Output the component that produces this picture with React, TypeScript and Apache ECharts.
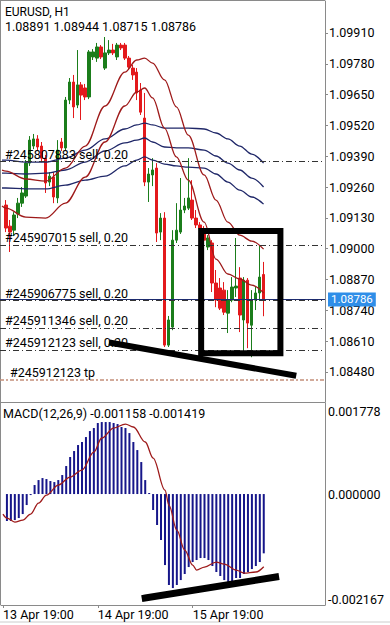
import React, { useEffect, useRef } from 'react';
import * as echarts from 'echarts';

const FONT = 'Roboto, "Noto Sans", sans-serif';

const symbolTitle = 'EURUSD, H1';
const headerOHLC = '1.08891 1.08944 1.08715 1.08786';
const macdTitle = 'MACD(12,26,9) -0.001158 -0.001419';

// time slots (hourly), slot 0 = 13 Apr 19:00, first candle in slot 1
const SLOT_COUNT = 82;
const FIRST_CANDLE_SLOT = 1;
const START_DAY = 13;
const START_HOUR = 19;
const timeTickLabels = ['13 Apr 19:00', '14 Apr 19:00', '15 Apr 19:00'];

// H1 candles
const opens = [1.09184, 1.09095, 1.09078, 1.09146, 1.09192, 1.09222, 1.09361, 1.09433, 1.09463, 1.09433,
  1.09382, 1.09281, 1.09302, 1.09214, 1.0945, 1.09425, 1.09627, 1.09703, 1.09606, 1.09691,
  1.09678, 1.0964, 1.09809, 1.09804, 1.09851, 1.09762, 1.09826, 1.09838, 1.09809, 1.09859,
  1.09859, 1.09804, 1.09762, 1.09745, 1.09669, 1.09551, 1.09281, 1.09311, 1.0934, 1.0907,
  1.09129, 1.08593, 1.08669, 1.09036, 1.0907, 1.09163, 1.09171, 1.09205, 1.09129, 1.091,
  1.09078, 1.09007, 1.09024, 1.08855, 1.08834, 1.08825, 1.08728, 1.08783, 1.08834, 1.08876,
  1.08699, 1.08867, 1.08677, 1.08783, 1.08813, 1.08891];
const closes = [1.09087, 1.0907, 1.09142, 1.09192, 1.09235, 1.09361, 1.09458, 1.09463, 1.09429, 1.09382,
  1.09277, 1.09306, 1.09218, 1.09416, 1.09425, 1.09627, 1.09703, 1.09598, 1.09691, 1.09648,
  1.0964, 1.0983, 1.0983, 1.09851, 1.09809, 1.09826, 1.09838, 1.09826, 1.09859, 1.09847,
  1.09804, 1.09766, 1.09733, 1.09657, 1.09576, 1.09281, 1.09315, 1.09332, 1.09066, 1.09129,
  1.08593, 1.08699, 1.09036, 1.09078, 1.09163, 1.0918, 1.09214, 1.09129, 1.091, 1.09087,
  1.09036, 1.09045, 1.08855, 1.08783, 1.08749, 1.08732, 1.08783, 1.08838, 1.08842, 1.0872,
  1.08867, 1.08686, 1.08783, 1.08813, 1.0888, 1.08786];
const lows = [1.0907, 1.08986, 1.09053, 1.09129, 1.09176, 1.09214, 1.09349, 1.0942, 1.09416, 1.09365,
  1.09235, 1.09264, 1.09192, 1.09192, 1.09412, 1.09416, 1.0961, 1.09551, 1.09593, 1.09543,
  1.09627, 1.09631, 1.09796, 1.09788, 1.098, 1.09754, 1.09817, 1.09817, 1.09796, 1.09838,
  1.09796, 1.09754, 1.09712, 1.09627, 1.09564, 1.09264, 1.09197, 1.09264, 1.09028, 1.09036,
  1.08585, 1.08585, 1.08656, 1.09024, 1.09062, 1.0915, 1.09163, 1.09121, 1.09087, 1.0907,
  1.09024, 1.08994, 1.08817, 1.08753, 1.08741, 1.0872, 1.08644, 1.08774, 1.08796, 1.08648,
  1.08572, 1.0858, 1.08542, 1.08741, 1.08779, 1.08715];
const highs = [1.09205, 1.09121, 1.09154, 1.09214, 1.0926, 1.09374, 1.09475, 1.09484, 1.09479, 1.0945,
  1.09395, 1.09323, 1.09323, 1.09458, 1.09467, 1.0964, 1.0972, 1.09733, 1.09838, 1.09703,
  1.09695, 1.09838, 1.09842, 1.09868, 1.09859, 1.09893, 1.0988, 1.09864, 1.09868, 1.09868,
  1.09868, 1.09813, 1.09775, 1.09762, 1.09699, 1.09657, 1.0934, 1.09382, 1.09361, 1.0915,
  1.09154, 1.08716, 1.09078, 1.09192, 1.09298, 1.09214, 1.09382, 1.09289, 1.09163, 1.09112,
  1.09095, 1.09057, 1.09036, 1.0891, 1.08876, 1.08859, 1.08825, 1.0888, 1.09045, 1.08922,
  1.0888, 1.08876, 1.08825, 1.08838, 1.09015, 1.08944];

// moving averages, read at these candle indexes
const maIdx = [-1, 0, 5, 10, 15, 20, 25, 30, 33, 35, 37, 40, 43, 46, 50, 53, 56, 59, 62, 65];
const maRedFast = [1.09331, 1.09327, 1.09294, 1.09285, 1.0934, 1.09433, 1.09602, 1.09745, 1.09796, 1.09804,
  1.09783, 1.09712, 1.09598, 1.09479, 1.09311, 1.09205, 1.09112, 1.09057, 1.09032, 1.08998];
const maRedSlow = [1.0918, 1.09171, 1.09133, 1.09129, 1.09192, 1.09302, 1.0945, 1.09602, 1.09661, 1.09678,
  1.09636, 1.09509, 1.09387, 1.09289, 1.09112, 1.08956, 1.08893, 1.08872, 1.08846, 1.08813];
const maNavyTop = [1.09374, 1.09374, 1.09365, 1.09365, 1.09382, 1.09416, 1.09463, 1.09505, 1.09522, 1.0953,
  1.09522, 1.09509, 1.09509, 1.09509, 1.09505, 1.09488, 1.09463, 1.09433, 1.09399, 1.09361];
const maNavyMid = [1.09319, 1.09319, 1.09315, 1.09319, 1.09332, 1.09365, 1.09412, 1.09446, 1.09458, 1.09467,
  1.0945, 1.09429, 1.09425, 1.09425, 1.09416, 1.09391, 1.09361, 1.09332, 1.09298, 1.0926];
const maNavyLow = [1.09256, 1.09256, 1.09252, 1.09252, 1.09268, 1.09289, 1.09306, 1.09349, 1.09374, 1.09387,
  1.09374, 1.09357, 1.09349, 1.09344, 1.0934, 1.09315, 1.09281, 1.09247, 1.09218, 1.09188];

// MACD histogram per candle
const macdHist = [-0.000527, -0.000527, -0.000508, -0.000469, -0.000391, -0.000215, -0.00002, 0.000176, 0.000273, 0.000312,
  0.000293, 0.000254, 0.000234, 0.000273, 0.000371, 0.000547, 0.000723, 0.00084, 0.000957, 0.001016,
  0.001113, 0.00123, 0.001289, 0.001387, 0.001406, 0.001406, 0.001406, 0.001387, 0.001367, 0.001309,
  0.001289, 0.001191, 0.001016, 0.000859, 0.000625, 0.000273, 0.00002, -0.000312, -0.000605, -0.000898,
  -0.001387, -0.001777, -0.001836, -0.001777, -0.00168, -0.001562, -0.001426, -0.001328, -0.001289, -0.00125,
  -0.00125, -0.001289, -0.001406, -0.001523, -0.001601, -0.00168, -0.001719, -0.001699, -0.00164, -0.00164,
  -0.001562, -0.001523, -0.001465, -0.001406, -0.001328, -0.001158];
// MACD signal line, read at these candle indexes
const signalIdx = [-1, 0, 2, 4, 6, 8, 10, 13, 16, 19, 22, 24, 27, 30, 32, 35, 37, 40, 41, 43, 45, 47, 48, 50, 53, 55, 58, 60, 63, 65];
const signalVals = [-0.000391, -0.000469, -0.000547, -0.000508, -0.000391, -0.000176, -0.00002, 0.000176, 0.000332, 0.000469,
  0.00082, 0.001094, 0.001289, 0.001367, 0.001309, 0.001016, 0.000703, 0.000078, -0.000215, -0.000703,
  -0.001094, -0.001387, -0.001484, -0.001426, -0.001328, -0.001367, -0.001484, -0.001543, -0.001523, -0.001419];

// axes
const priceMin = 1.08353;
const priceMax = 1.10045;
const priceTicks = [1.0848, 1.0861, 1.0874, 1.0887, 1.09, 1.0913, 1.0926, 1.0939, 1.0952, 1.0965, 1.0978, 1.0991];
const macdMin = -0.002167;
const macdMax = 0.001778;
const macdTicks = [-0.002167, 0, 0.001778];
const bidPrice = 1.08786;

// trade lines
const orderLabels = ['#245807883 sell, 0.20', '#245907015 sell, 0.20', '#245906775 sell, 0.20', '#245911346 sell, 0.20', '#245912123 sell, 0.20'];
const orderPrices = [1.09367, 1.09015, 1.08781, 1.08664, 1.08572];
const tpLabel = '#245912123 tp';
const tpPrice = 1.08445;

// hand-drawn annotations (candle index, value)
const trendIdx = [26.75, 72.5];
const trendPrices = [1.08602, 1.08466];
const boxIdx = [49.25, 69.25];
const boxPrices = [1.09074, 1.08559];
const macdTrendIdx = [35, 68];
const macdTrendVals = [-0.002031, -0.001621];

const C = {
  bull: '#1b7d1b',
  bear: '#e3191c',
  red: '#9e1a1a',
  navy: '#1f2768',
  bar: '#16168a',
  axis: '#8a8a8a',
  order: '#333333',
  tp: '#c48f7a',
  bid: '#1d2b6e',
  bidBox: '#2f8ee8',
};

const slotLabels = Array.from({ length: SLOT_COUNT }, (_, s) => {
  const h = START_HOUR + s;
  return `${START_DAY + Math.floor(h / 24)} Apr ${String(h % 24).padStart(2, '0')}:00`;
});

export default function App() {
  const ref = useRef<HTMLDivElement>(null);
  useEffect(() => {
    if (!ref.current) return;
    const chart = echarts.init(ref.current, undefined, { renderer: 'svg' });
    const S = FIRST_CANDLE_SLOT;
    const candleData = opens.map((o, k) => [k + S, o, closes[k], lows[k], highs[k]]);
    const ma = (vals: number[]) => maIdx.map((k, i) => [k + S, vals[i]]);
    const maSeries = (vals: number[], color: string) => ({
      type: 'line', xAxisIndex: 1, yAxisIndex: 0, data: ma(vals), smooth: 0.35, smoothMonotone: 'x',
      symbol: 'none', silent: true, z: 4, lineStyle: { color, width: 1.3 },
    });
    const isTimeTick = (_i: number, v: string) => timeTickLabels.includes(v);
    const lblBase = { color: '#000', fontSize: 12.5, fontFamily: FONT };

    const markData: any[] = orderLabels.map((label, i) => ({
      yAxis: orderPrices[i],
      lineStyle: { color: C.order, width: 1, type: [6, 3, 1, 3] },
      label: { show: true, position: 'insideStartTop', formatter: label, distance: [5, 1], ...lblBase },
    }));
    markData.push({
      yAxis: tpPrice,
      lineStyle: { color: C.tp, width: 1.6, type: [4, 2, 2, 2] },
      label: { show: true, position: 'insideStartTop', formatter: tpLabel, distance: [10, 1], ...lblBase },
    });
    markData.push({
      yAxis: bidPrice,
      lineStyle: { color: C.bid, width: 1, type: 'solid' },
      label: {
        show: true, position: 'end', formatter: bidPrice.toFixed(5), distance: 3,
        backgroundColor: C.bidBox, color: '#fff', padding: [0, 3, 3, 3], lineHeight: 11,
        fontSize: 11.5, fontFamily: FONT,
      },
    });

    const thick = (data: number[][], xAxisIndex: number, yAxisIndex: number, width: number) => ({
      type: 'line', xAxisIndex, yAxisIndex, data, symbol: 'none', silent: true, z: 10,
      lineStyle: { color: '#000', width, cap: 'square', join: 'miter' },
    });

    const option: any = {
      animation: false,
      backgroundColor: '#ffffff',
      grid: [
        { left: -3, right: 65, top: 1, height: 401 },
        { left: -3, right: 65, top: 403, height: 202 },
      ],
      xAxis: [
        {
          type: 'category', gridIndex: 0, data: slotLabels, boundaryGap: true,
          axisLine: { show: true, onZero: false, lineStyle: { color: C.axis } },
          axisTick: { show: false }, axisLabel: { show: false }, splitLine: { show: false },
        },
        { type: 'value', gridIndex: 0, min: -0.5, max: SLOT_COUNT - 0.5, show: false },
        {
          type: 'category', gridIndex: 1, data: slotLabels, boundaryGap: true,
          axisLine: { show: true, onZero: false, lineStyle: { color: C.axis } },
          axisTick: { show: true, alignWithLabel: true, interval: isTimeTick, length: 3, lineStyle: { color: C.axis } },
          axisLabel: { interval: isTimeTick, align: 'left', margin: 3, ...lblBase, fontSize: 12.5 },
          splitLine: { show: false },
        },
        { type: 'value', gridIndex: 1, min: -0.5, max: SLOT_COUNT - 0.5, show: false },
      ],
      yAxis: [
        {
          type: 'value', gridIndex: 0, position: 'right', min: priceMin, max: priceMax, scale: true,
          axisLine: { show: true, onZero: false, lineStyle: { color: C.axis } },
          axisTick: { show: true, customValues: priceTicks, length: 3, lineStyle: { color: C.axis } },
          axisLabel: { customValues: priceTicks, formatter: (v: number) => v.toFixed(5), margin: 4, lineHeight: 11, ...lblBase },
          splitLine: { show: false },
        },
        {
          type: 'value', gridIndex: 1, position: 'right', min: macdMin, max: macdMax,
          axisLine: { show: true, onZero: false, lineStyle: { color: C.axis } },
          axisTick: { show: false },
          axisLabel: {
            customValues: macdTicks, margin: 3, ...lblBase,
            formatter: (v: number) => {
              const t = Math.abs(v) < 1e-9 ? (0).toFixed(6) : v.toFixed(6);
              if (v > 1e-9) return `{t|${t}}`;
              if (v < -1e-9) return `{b|${t}}`;
              return `{m|${t}}`;
            },
            rich: {
              t: { padding: [16, 0, 0, 0], ...lblBase },
              b: { padding: [0, 0, 12, 0], ...lblBase },
              m: { ...lblBase },
            },
          },
          splitLine: { show: false },
        },
      ],
      series: [
        {
          type: 'line', xAxisIndex: 1, yAxisIndex: 0, data: [], z: 1, symbol: 'none',
          markLine: { silent: true, symbol: ['none', 'none'], animation: false, precision: 5, data: markData },
        },
        {
          type: 'candlestick', xAxisIndex: 0, yAxisIndex: 0, z: 3, barWidth: 3,
          encode: { x: 0, y: [1, 2, 3, 4] }, data: candleData,
          itemStyle: { color: C.bull, color0: C.bear, borderColor: C.bull, borderColor0: C.bear, borderWidth: 1 },
        },
        maSeries(maNavyTop, C.navy),
        maSeries(maNavyMid, C.navy),
        maSeries(maNavyLow, C.navy),
        maSeries(maRedSlow, C.red),
        maSeries(maRedFast, C.red),
        thick(trendIdx.map((k, i) => [k + S, trendPrices[i]]), 1, 0, 6),
        thick([
          [boxIdx[0] + S, boxPrices[0]], [boxIdx[1] + S, boxPrices[0]],
          [boxIdx[1] + S, boxPrices[1]], [boxIdx[0] + S, boxPrices[1]], [boxIdx[0] + S, boxPrices[0]],
        ], 1, 0, 6),
        {
          type: 'bar', xAxisIndex: 2, yAxisIndex: 1, barWidth: 2, silent: true,
          data: macdHist.map((v, k) => [k + S, v]), itemStyle: { color: C.bar },
        },
        {
          type: 'line', xAxisIndex: 3, yAxisIndex: 1, data: signalIdx.map((k, i) => [k + S, signalVals[i]]),
          smooth: 0.35, smoothMonotone: 'x', symbol: 'none', silent: true, z: 4, lineStyle: { color: C.red, width: 1.3 },
        },
        thick(macdTrendIdx.map((k, i) => [k + S, macdTrendVals[i]]), 3, 1, 7),
      ],
      graphic: [
        { type: 'line', shape: { x1: 0.5, y1: 0, x2: 0.5, y2: 605 }, style: { stroke: C.axis, lineWidth: 1 } },
        { type: 'line', shape: { x1: 0, y1: 0.5, x2: 325, y2: 0.5 }, style: { stroke: C.axis, lineWidth: 1 } },
        { type: 'line', shape: { x1: 0, y1: 622, x2: 390, y2: 622 }, style: { stroke: '#cccccc', lineWidth: 1 } },
        { type: 'text', x: 5, y: 6, z: 20, style: { text: symbolTitle, fill: '#000', font: `12px ${FONT}` } },
        { type: 'text', x: 5, y: 20, z: 20, style: { text: headerOHLC, fill: '#000', font: `12.5px ${FONT}` } },
        { type: 'text', x: 3, y: 407, z: 20, style: { text: macdTitle, fill: '#000', font: `12.5px ${FONT}` } },
      ],
    };
    chart.setOption(option);
    return () => chart.dispose();
  }, []);
  return <div ref={ref} style={{ position: 'fixed', left: 0, top: 0, width: 390, height: 625, background: '#fff' }} />;
}
